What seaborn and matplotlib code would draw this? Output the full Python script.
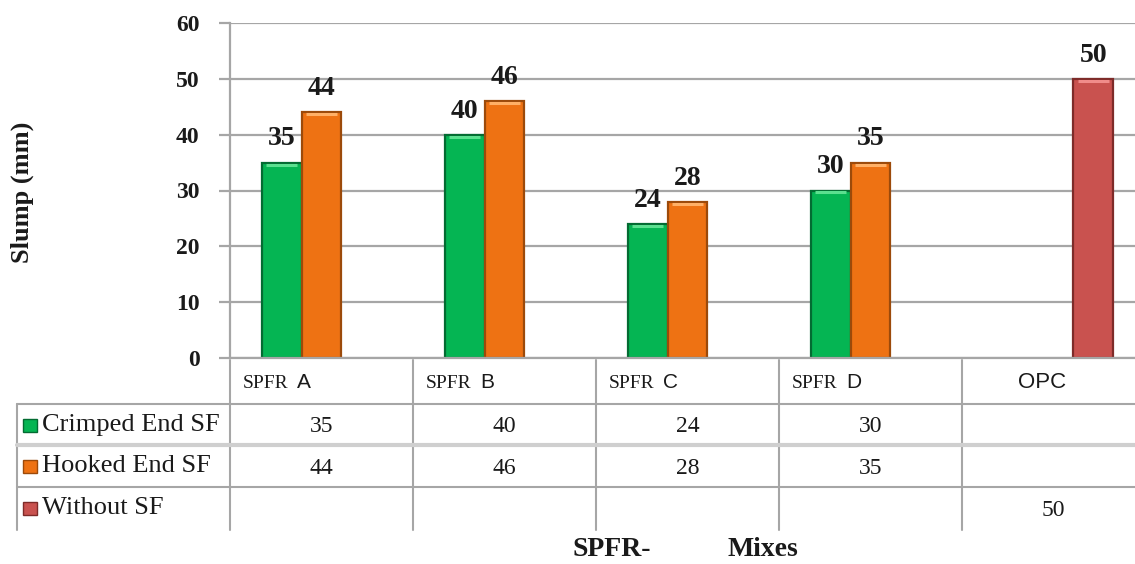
import numpy as np
import pandas as pd
import matplotlib
matplotlib.use("Agg")
import matplotlib.pyplot as plt
from matplotlib.transforms import blended_transform_factory
from matplotlib.patches import Rectangle
import seaborn as sns

# ---- data ----
mixes = ["SPFR A", "SPFR B", "SPFR C", "SPFR D", "OPC"]
series = ["Crimped End SF", "Hooked End SF", "Without SF"]
crimped = [35, 40, 24, 30, None]
hooked = [44, 46, 28, 35, None]
without = [None, None, None, None, 50]
yticks = [0, 10, 20, 30, 40, 50, 60]

face = ["#05B553", "#EE7213", "#C9524F"]
edge = ["#036B32", "#9C4A0A", "#7E2B29"]
top_hi = ["#5BE08F", "#FFB066", "#F08C8A"]

rows = []
for name, vals in zip(series, [crimped, hooked, without]):
    for m, v in zip(mixes, vals):
        if v is not None:
            rows.append({"mix": m, "series": name, "slump": v})
df = pd.DataFrame(rows)

sns.set_theme(style="white")
plt.rcParams["font.family"] = ["Liberation Serif", "DejaVu Serif"]

W, H = 1135, 564
fig = plt.figure(figsize=(W / 100, H / 100), dpi=100)
fig.patch.set_facecolor("white")


def fy(py):
    return 1 - py / H


def fx(px):
    return px / W


ax = fig.add_axes([fx(230), fy(358), fx(1145) - fx(230), fy(23) - fy(358)])

sns.barplot(data=df, x="mix", y="slump", hue="series", order=mixes,
            hue_order=series, palette=face, saturation=1, width=0.655,
            dodge=True, errorbar=None, legend=False, ax=ax, linewidth=0)

# bevelled look: darker outline and a light strip along the top of each bar
for cont, ec, hi in zip(ax.containers, edge, top_hi):
    for bar in cont:
        bar.set_edgecolor(ec)
        bar.set_linewidth(1.6)
        x0, w, h = bar.get_x(), bar.get_width(), bar.get_height()
        ax.plot([x0 + w * 0.12, x0 + w * 0.88], [h - 0.35, h - 0.35],
                color=hi, linewidth=2.2, solid_capstyle="butt", zorder=3)
    ax.bar_label(cont, fmt="%d", padding=8, fontsize=20, fontweight="bold",
                 color="#1a1a1a", family="Liberation Serif")

ax.set_ylim(0, 60)
ax.set_xlim(-0.5, 4.5)
ax.set_yticks(yticks)
ax.set_yticklabels([str(t) for t in yticks], fontsize=17, fontweight="bold",
                   color="#1a1a1a")
ax.set_xticks([])
ax.set_xlabel("")
ax.set_ylabel("")
ax.yaxis.grid(True, color="#A6A6A6", linewidth=1.6)
ax.set_axisbelow(True)
ax.tick_params(axis="y", length=8, width=1.6, color="#A6A6A6", pad=14, left=True)
for s in ["top", "right"]:
    ax.spines[s].set_visible(False)
ax.spines["left"].set_color("#A6A6A6")
ax.spines["left"].set_linewidth(1.6)
ax.spines["bottom"].set_color("#A6A6A6")
ax.spines["bottom"].set_linewidth(1.6)

fig.text(fx(22), fy(192), "Slump (mm)", rotation=90, ha="center", va="center",
         fontsize=19, fontweight="bold", color="#1a1a1a")

# ---- data table under the axis ----
tr = blended_transform_factory(ax.transData, fig.transFigure)
grid_c = "#A6A6A6"
row_edges = [360, 404, 445, 487, 530]
bounds = np.arange(len(mixes) + 1) - 0.5

# vertical column separators
for b in bounds[:-1]:
    fig.add_artist(plt.Line2D([b, b], [fy(row_edges[0]), fy(row_edges[-1])],
                              transform=tr, color=grid_c, linewidth=1.5))
fig.add_artist(plt.Line2D([fx(17), fx(17)], [fy(404), fy(530)],
                          transform=fig.transFigure, color=grid_c, linewidth=1.5))
# horizontal separators
for yy, lw, col in [(404, 1.5, grid_c), (445, 3.0, "#CFCFCF"), (487, 1.5, grid_c)]:
    fig.add_artist(plt.Line2D([fx(17), 1.0], [fy(yy), fy(yy)],
                              transform=fig.transFigure, color=col, linewidth=lw))

# header row
col_px = 183.0
for i, m in enumerate(mixes):
    if m.startswith("SPFR"):
        x0 = i - 0.5 + 13 / col_px
        fig.text(x0, fy(384), "SPFR", transform=tr, ha="left", va="center",
                 fontsize=14, color="#1a1a1a")
        fig.text(x0 + 54 / col_px, fy(382), m.split()[-1], transform=tr,
                 ha="left", va="center", fontsize=15, color="#1a1a1a",
                 family="Liberation Sans")
    else:
        fig.text(i - 0.5 + 80 / col_px, fy(382), m, transform=tr, ha="center",
                 va="center", fontsize=16, color="#1a1a1a", family="Liberation Sans")

# series rows
row_mid = [425, 466, 508]
for r, (name, vals) in enumerate(zip(series, [crimped, hooked, without])):
    yc = fy(row_mid[r])
    fig.add_artist(Rectangle((fx(23), yc - 6.5 / H), 14 / W, 13 / H,
                             transform=fig.transFigure, facecolor=face[r],
                             edgecolor=edge[r], linewidth=1))
    fig.text(fx(42), yc, name, ha="left", va="center", fontsize=19,
             color="#1a1a1a")
    for i, v in enumerate(vals):
        if v is not None:
            fig.text(i, yc - 2 / H, str(v), transform=tr, ha="center",
                     va="center", fontsize=17, color="#1a1a1a")

fig.text(fx(573), fy(550), "SPFR-", ha="left", va="center", fontsize=20,
         fontweight="bold", color="#1a1a1a")
fig.text(fx(728), fy(550), "Mixes", ha="left", va="center", fontsize=20,
         fontweight="bold", color="#1a1a1a")

fig.savefig("out.png", dpi=100, facecolor="white")
